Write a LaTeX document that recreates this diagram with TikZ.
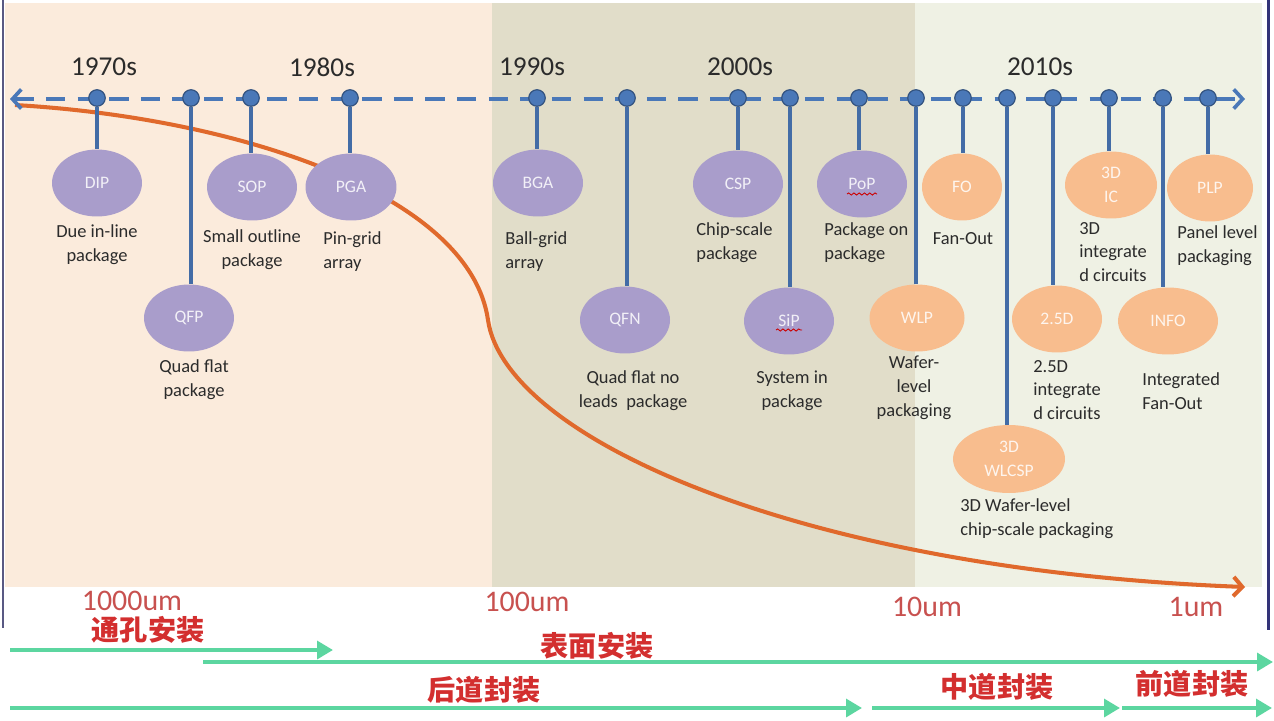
\documentclass[tikz,border=0pt]{standalone}
\usepackage{fontspec}
\setmainfont{Carlito}
\newfontfamily\cjk{Noto Sans CJK SC}
\usetikzlibrary{arrows.meta, positioning, shapes.geometric, decorations.pathmorphing}
\definecolor{panelPeach}{HTML}{FBEBDC}
\definecolor{panelKhaki}{HTML}{E1DDC9}
\definecolor{panelMint}{HTML}{EFF1E4}
\definecolor{lineBlue}{HTML}{4A78B8}
\definecolor{pkgPurple}{HTML}{A99DCB}
\definecolor{pkgOrange}{HTML}{F8BD8E}
\definecolor{trendOrange}{HTML}{E0692C}
\definecolor{textDark}{HTML}{2B2B2B}
\definecolor{sizeRed}{HTML}{C8514F}
\definecolor{stageRed}{HTML}{D32F2F}
\definecolor{stageGreen}{HTML}{5CD6A0}

\begin{document}
\begin{tikzpicture}[
    x=0.02cm, y=-0.02cm,
    pkg/.style={ellipse, fill=#1, text=white!85!#1, minimum width=1.8cm,
                minimum height=1.34cm, inner sep=0pt, align=center,
                font=\fontsize{10}{13.5}\selectfont},
    dot/.style={circle, fill=lineBlue, draw=lineBlue!70!black, line width=0.7pt,
                minimum size=0.33cm, inner sep=0pt},
    stem/.style={draw=lineBlue!90!black, line width=2.1pt},
    desc/.style={font=\fontsize{10.5}{13.6}\selectfont, text=textDark,
                 inner sep=0pt, align=#1},
    desc/.default=center,
    decade/.style={font=\fontsize{15.5}{18}\selectfont, text=textDark},
    sizelbl/.style={font=\fontsize{17}{20}\selectfont, text=sizeRed},
    stage/.style={font=\cjk\bfseries\fontsize{16}{18}\selectfont, text=stageRed},
    track/.style={draw=stageGreen, line width=2.8pt, -{Triangle[length=9pt,width=10pt]}},
    timeline/.style={draw=lineBlue, line width=2.1pt, dash pattern=on 11pt off 7pt,
                     {Straight Barb[length=5pt,width=11pt]}-{Straight Barb[length=5pt,width=11pt]}},
    trend/.style={draw=trendOrange, line width=2.3pt, -{Straight Barb[length=5pt,width=11pt]}},
    squig/.style={draw=red!80!black, line width=0.5pt, decorate,
                  decoration={snake, amplitude=0.6pt, segment length=3pt}},
  ]
    \useasboundingbox (0,0) rectangle (1274,720);
    \fill[white] (0,0) rectangle (1274,720);

    % era panels
    \fill[panelPeach] (5,3) rectangle (492,587);
    \fill[panelKhaki] (492,3) rectangle (915,587);
    \fill[panelMint] (915,3) rectangle (1262,587);
    \draw[draw=black!45!blue!30!gray, line width=1.2pt] (3,0) -- (3,628);
    \draw[draw=black!55!blue!60!gray, line width=1.7pt] (1268,0) -- (1268,630);

    % feature size trend
    \coordinate (cs) at (15,105);
    \coordinate (ce) at (1245,587);
    \draw[trend] (cs) .. controls (240,118) and (470,195) .. (488,320)
                      .. controls (505,438) and (800,570) .. (ce);

    % time axis
    \coordinate (tlL) at (10,99);
    \coordinate (tlR) at (1245,99);
    \draw[timeline] (tlL) -- (tlR);

    \node[decade] (y70) at (104,67) {1970s};
    \node[decade] (y80) at (322,67) {1980s};
    \node[decade] (y90) at (532,67) {1990s};
    \node[decade] (y00) at (740,67) {2000s};
    \node[decade] (y10) at (1040,67) {2010s};

    \node[dot] (dip-d) at (97,98) {};
    \node[dot] (qfp-d) at (191,98) {};
    \node[dot] (sop-d) at (251,98) {};
    \node[dot] (pga-d) at (350,98) {};
    \node[dot] (bga-d) at (537,98) {};
    \node[dot] (qfn-d) at (627,98) {};
    \node[dot] (csp-d) at (738,98) {};
    \node[dot] (sip-d) at (790,98) {};
    \node[dot] (pop-d) at (859,98) {};
    \node[dot] (wlp-d) at (916,98) {};
    \node[dot] (fo-d) at (963,98) {};
    \node[dot] (wlcsp-d) at (1007,98) {};
    \node[dot] (d25-d) at (1053,98) {};
    \node[dot] (ic3d-d) at (1109,98) {};
    \node[dot] (info-d) at (1163,98) {};
    \node[dot] (plp-d) at (1208,98) {};

    % packages
    \node[pkg=pkgPurple] (dip) at (97,183) {DIP};
    \node[pkg=pkgPurple] (qfp) at (189,318) {QFP};
    \node[pkg=pkgPurple] (sop) at (252,187) {SOP};
    \node[pkg=pkgPurple, minimum width=1.82cm] (pga) at (351,187) {PGA};
    \node[pkg=pkgPurple] (bga) at (538,183) {BGA};
    \node[pkg=pkgPurple] (qfn) at (625,320) {QFN};
    \node[pkg=pkgPurple] (csp) at (738,184) {CSP};
    \node[pkg=pkgPurple] (sip) at (789,321) {SiP};
    \node[pkg=pkgPurple] (pop) at (862,184) {PoP};
    \node[pkg=pkgOrange, minimum width=1.9cm] (wlp) at (917,318) {WLP};
    \node[pkg=pkgOrange, minimum width=1.6cm] (fo) at (962,187) {FO};
    \node[pkg=pkgOrange, minimum width=2.24cm, minimum height=1.36cm] (wlcsp) at (1009,459) {3D\\WLCSP};
    \node[pkg=pkgOrange] (d25) at (1057,319) {2.5D};
    \node[pkg=pkgOrange, minimum width=1.84cm] (ic3d) at (1111,185) {3D\\IC};
    \node[pkg=pkgOrange, minimum width=2cm] (info) at (1168,321) {INFO};
    \node[pkg=pkgOrange, minimum width=1.72cm] (plp) at (1210,188) {PLP};

    \draw[squig] ([shift={(-15,10)}]pop.center) -- ([shift={(15,10)}]pop.center);
    \draw[squig] ([shift={(-13,9)}]sip.center) -- ([shift={(13,9)}]sip.center);

    \draw[stem] (dip-d) -- (dip-d |- dip.north);
    \draw[stem] (qfp-d) -- (qfp-d |- qfp.north);
    \draw[stem] (sop-d) -- (sop-d |- sop.north);
    \draw[stem] (pga-d) -- (pga-d |- pga.north);
    \draw[stem] (bga-d) -- (bga-d |- bga.north);
    \draw[stem] (qfn-d) -- (qfn-d |- qfn.north);
    \draw[stem] (csp-d) -- (csp-d |- csp.north);
    \draw[stem] (sip-d) -- (sip-d |- sip.north);
    \draw[stem] (pop-d) -- (pop-d |- pop.north);
    \draw[stem] (wlp-d) -- (wlp-d |- wlp.north);
    \draw[stem] (fo-d) -- (fo-d |- fo.north);
    \draw[stem] (wlcsp-d) -- (wlcsp-d |- wlcsp.north);
    \draw[stem] (d25-d) -- (d25-d |- d25.north);
    \draw[stem] (ic3d-d) -- (ic3d-d |- ic3d.north);
    \draw[stem] (info-d) -- (info-d |- info.north);
    \draw[stem] (plp-d) -- (plp-d |- plp.north);

    \node[desc] (dip-t) at (97,245) {Due in-line\\package};
    \node[desc] (sop-t) at (252,250) {Small outline\\package};
    \node[desc=left, anchor=west] (pga-t) at (323,252) {Pin-grid\\array};
    \node[desc] (qfp-t) at (194,380) {Quad flat\\package};
    \node[desc=left, anchor=west] (bga-t) at (505,252) {Ball-grid\\array};
    \node[desc=left, anchor=west] (csp-t) at (696,243) {Chip-scale\\package};
    \node[desc=left, anchor=west] (pop-t) at (824,243) {Package on\\package};
    \node[desc] (qfn-t) at (633,391) {Quad flat no\\leads\ \ package};
    \node[desc] (sip-t) at (792,391) {System in\\package};
    \node[desc] (wlp-t) at (914,388) {Wafer-\\level\\packaging};
    \node[desc] (fo-t) at (963,239) {Fan-Out};
    \node[desc=left, anchor=west] (ic3d-t) at (1079,252) {3D\\integrate\\d circuits};
    \node[desc=left, anchor=west] (plp-t) at (1177,246) {Panel level\\packaging};
    \node[desc=left, anchor=west] (d25-t) at (1033,390) {2.5D\\integrate\\d circuits};
    \node[desc=left, anchor=west] (info-t) at (1142,391) {Integrated\\Fan-Out};
    \node[desc=left, anchor=west] (wlcsp-t) at (960,519) {3D Wafer-level\\chip-scale packaging};

    % feature sizes and packaging stages
    \node[sizelbl] (s1000) at (132,601) {1000um};
    \node[sizelbl] (s100) at (527,602) {100um};
    \node[sizelbl] (s10) at (927,607) {10um};
    \node[sizelbl] (s1) at (1196,607) {1um};

    \node[stage] (tht) at (148,630) {通孔安装};
    \node[stage] (smt) at (597,646) {表面安装};
    \node[stage] (bep) at (484,690) {后道封装};
    \node[stage] (mep) at (997,687) {中道封装};
    \node[stage] (fep) at (1192,684) {前道封装};

    \coordinate (a1s) at (10,650);   \coordinate (a1e) at (333,650);
    \coordinate (a2s) at (203,662);  \coordinate (a2e) at (1273,662);
    \coordinate (a3s) at (10,708);   \coordinate (a3e) at (862,708);
    \coordinate (a4s) at (872,708);  \coordinate (a4e) at (1120,708);
    \coordinate (a5s) at (1122,708); \coordinate (a5e) at (1272,708);
    \draw[track] (a1s) -- (a1e);
    \draw[track] (a2s) -- (a2e);
    \draw[track] (a3s) -- (a3e);
    \draw[track] (a4s) -- (a4e);
    \draw[track] (a5s) -- (a5e);
  \end{tikzpicture}
\end{document}
